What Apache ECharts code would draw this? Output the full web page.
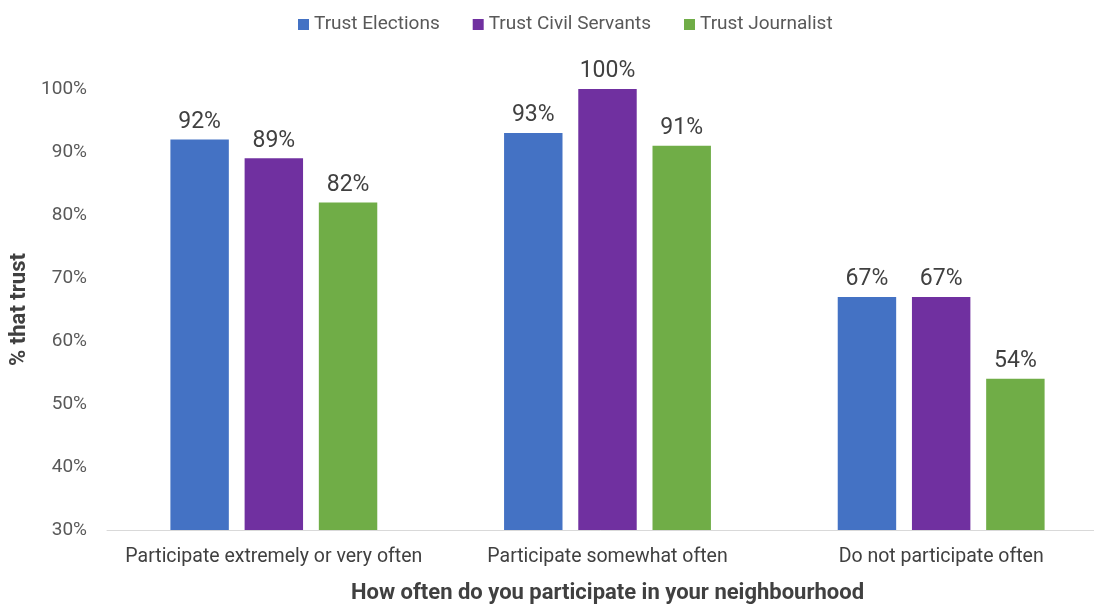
<!DOCTYPE html>
<html>
<head>
<meta charset="utf-8">
<script src="https://cdn.jsdelivr.net/npm/echarts@6/dist/echarts.min.js"></script>
<style>
  html, body { margin: 0; padding: 0; background: #ffffff; }
  #chart { width: 1094px; height: 604px; }
</style>
</head>
<body>
<div id="chart"></div>
<script>
// Categories and series values (percent that trust)
const categories = [
  'Participate extremely or very often',
  'Participate somewhat often',
  'Do not participate often'
];
const seriesNames = ['Trust Elections', 'Trust Civil Servants', 'Trust Journalist'];
const trustElections = [92, 93, 67];
const trustCivilServants = [89, 100, 67];
const trustJournalist = [82, 91, 54];
const yTicks = [30, 40, 50, 60, 70, 80, 90, 100];

const colors = ['#4472C4', '#7030A0', '#70AD47'];
const values = [trustElections, trustCivilServants, trustJournalist];
const fontFamily = 'Roboto, "Open Sans", sans-serif';

const chart = echarts.init(document.getElementById('chart'));

chart.setOption({
  animation: false,
  textStyle: { fontFamily: fontFamily },
  legend: {
    top: 10,
    left: 293,
    itemWidth: 11,
    itemHeight: 11,
    itemGap: 33,
    icon: 'rect',
    textStyle: { fontSize: 19, color: '#595959', fontFamily: fontFamily },
    data: seriesNames
  },
  grid: {
    left: 107,
    width: 1001,
    top: 89,
    height: 441,
    containLabel: false,
    outerBoundsMode: 'none'
  },
  xAxis: {
    type: 'category',
    data: categories,
    name: 'How often do you participate in your neighbourhood',
    nameLocation: 'middle',
    nameGap: 52,
    nameTextStyle: { fontSize: 22, fontWeight: 'bold', color: '#404040', fontFamily: fontFamily },
    axisLine: { lineStyle: { color: '#D9D9D9', width: 1 } },
    axisTick: { show: false },
    axisLabel: { fontSize: 19.5, color: '#404040', margin: 17, interval: 0, fontFamily: fontFamily }
  },
  yAxis: {
    type: 'value',
    min: yTicks[0],
    max: yTicks[yTicks.length - 1],
    interval: 10,
    name: '% that trust',
    nameLocation: 'middle',
    nameGap: 64,
    nameTextStyle: { fontSize: 22, fontWeight: 'bold', color: '#404040', fontFamily: fontFamily },
    axisLine: { show: false },
    axisTick: { show: false },
    splitLine: { show: false },
    axisLabel: {
      fontSize: 19,
      color: '#595959',
      margin: 20,
      fontFamily: fontFamily,
      formatter: v => v + '%'
    }
  },
  series: seriesNames.map((name, i) => ({
    name: name,
    type: 'bar',
    data: values[i],
    barGap: '27%',
    barCategoryGap: '38%',
    itemStyle: { color: colors[i] },
    label: {
      show: true,
      position: 'top',
      distance: 6,
      fontSize: 23,
      color: '#404040',
      fontFamily: fontFamily,
      formatter: p => p.value + '%'
    }
  }))
});
</script>
</body>
</html>
